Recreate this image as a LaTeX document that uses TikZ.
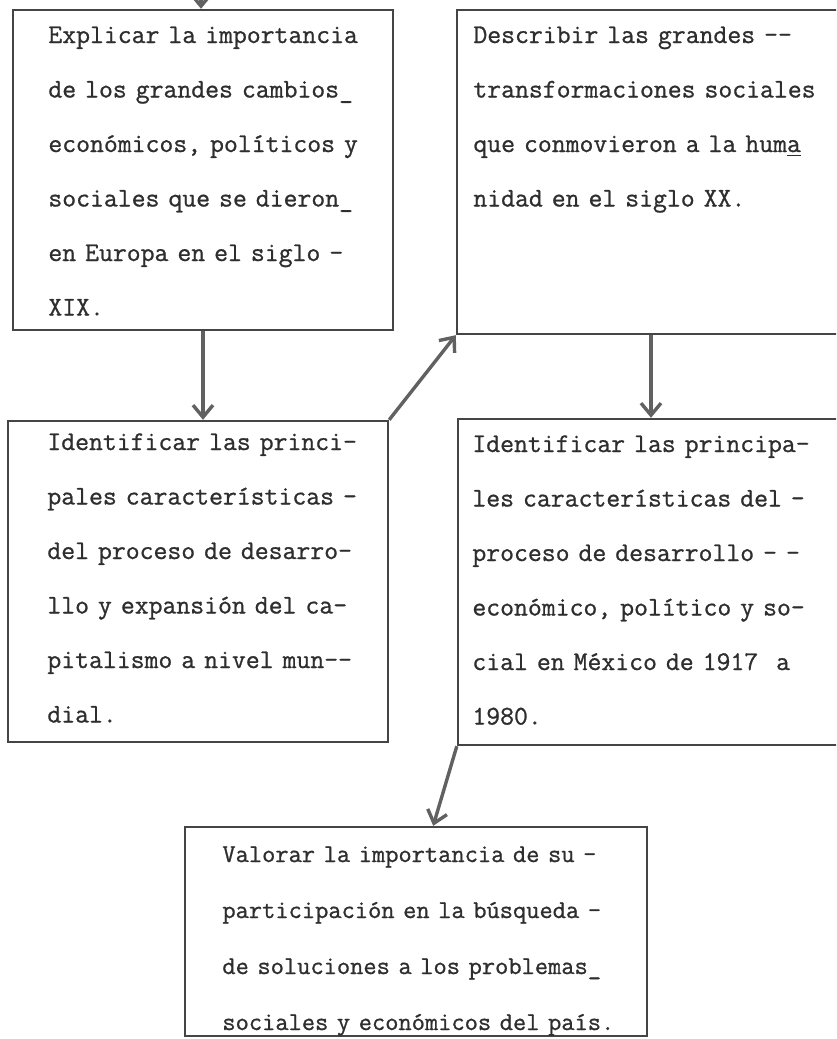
\documentclass[tikz,border=0pt]{standalone}
\usepackage{fontspec}
\newfontfamily\maquina[FakeBold=0.9]{Latin Modern Mono}
\usepackage{xcolor}
\usetikzlibrary{arrows.meta,positioning,calc,fit}
\definecolor{tinta}{HTML}{2E2E2E}
\definecolor{trazo}{HTML}{454545}

\begin{document}
\begin{tikzpicture}[x=0.5pt, y=-0.5pt,
    every node/.style={text=tinta},
    caja/.style={draw=trazo, line width=1.2pt, inner sep=0pt},
    texto/.style={anchor=base west, align=left, text width=215pt, inner sep=0pt,
        font=\maquina\fontsize{13.48}{27.25}\selectfont},
    textochico/.style={texto, font=\maquina\fontsize{12.86}{28}\selectfont},
    flecha/.style={draw=trazo!85, line width=1.7pt,
        -{Straight Barb[length=6pt,width=10pt,line width=1.7pt]}}]
    \useasboundingbox (0,0) rectangle (836,1039);
    \clip (0,0) rectangle (836,1039);

    % Boxes
    \node[caja, fit={(13,10) (393,330)}] (explicar) {};
    \node[caja, fit={(457,10) (845,334)}] (describir) {};
    \node[caja, fit={(8,421) (388,742)}] (capitalismo) {};
    \node[caja, fit={(458,419) (845,745)}] (mexico) {};
    \node[caja, fit={(185,827) (647,1036)}] (valorar) {};

    % Texts
    \node[texto] (explicarTxt) at (48,43) {Explicar la importancia\\
        de los grandes cambios\_\\
        económicos, políticos y\\
        sociales que se dieron\_\\
        en Europa en el siglo -\\
        XIX.};
    \node[texto] (describirTxt) at (473,43) {Describir las grandes -{}-\\
        transformaciones sociales\\
        que conmovieron a la hum\underline{a}\\
        nidad en el siglo XX.};
    \node[texto] (capitalismoTxt) at (47,450) {Identificar las princi-\\
        pales características -\\
        del proceso de desarro-\\
        llo y expansión del ca-\\
        pitalismo a nivel mun-{}-\\
        dial.};
    \node[texto] (mexicoTxt) at (472,452) {Identificar las principa-\\
        les características del -\\
        proceso de desarrollo - -\\
        económico, político y so-\\
        cial en México de 1917\ \ a\\
        1980.};
    \node[textochico] (valorarTxt) at (222,862) {Valorar la importancia de su -\\
        participación en la búsqueda -\\
        de soluciones a los problemas\_\\
        sociales y económicos del país.};

    % Arrows
    \coordinate (entrada) at (201,-40);
    \draw[flecha] (entrada) -- (entrada |- explicar.north);
    \draw[flecha] (explicar.south) -- (explicar.south |- capitalismo.north);
    \draw[flecha] (capitalismo.north east) -- (describir.south west);
    \draw[flecha] (describir.south) -- (describir.south |- mexico.north);
    \draw[flecha] (mexico.south west) -- ($(valorar.north west)!0.537!(valorar.north east)$);
\end{tikzpicture}
\end{document}
